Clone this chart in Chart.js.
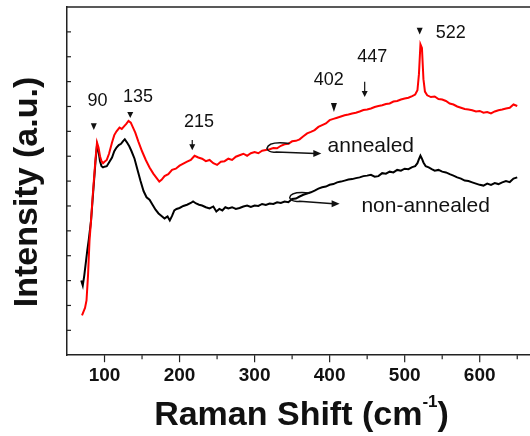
<!DOCTYPE html>
<html>
<head>
<meta charset="utf-8">
<script src="https://cdn.jsdelivr.net/npm/chart.js@4.4.1/dist/chart.umd.min.js"></script>
<style>
  body { margin: 0; background: #fff; }
  #wrap { width: 530px; height: 436px; }
</style>
</head>
<body>
<div id="wrap"><canvas id="graphic" width="530" height="436"></canvas></div>
<script>
// Raman spectra (intensity in axis-tick units)
const annealedX = [70,72,74,76,78,80,82,84,86,88,90,92,94,96,98,100,103,106,110,113,116,120,123,126,129,132,135,138,141,145,150,155,160,165,170,173,176,180,185,190,195,200,205,210,215,220,225,230,235,240,245,250,255,260,265,270,275,280,285,290,295,300,305,310,315,320,325,330,335,340,345,350,355,360,365,370,375,380,385,390,395,400,405,410,415,420,425,430,435,440,445,450,455,460,465,470,475,480,485,490,495,500,505,510,514,517,519,521,523,525,527,530,535,540,545,550,555,560,565,570,575,580,585,590,595,600,605,610,615,620,625,630,635,640,645,650];
const annealedY = [1.6,1.75,1.9,2.2,3.2,4.6,5.4,6.3,7.1,7.9,8.55,8.35,8.0,7.8,7.72,7.78,7.85,8.1,8.55,8.85,9.0,9.15,9.1,9.2,9.3,9.42,9.35,9.15,8.95,8.6,8.2,7.85,7.55,7.3,7.1,6.98,7.05,7.2,7.28,7.45,7.5,7.62,7.7,7.78,7.85,8.02,7.95,7.9,7.8,7.85,7.72,7.65,7.78,7.8,7.9,7.85,7.98,8.04,8.1,8.02,8.12,8.17,8.12,8.22,8.25,8.28,8.33,8.32,8.42,8.48,8.5,8.6,8.62,8.68,8.8,8.92,8.98,9.05,9.18,9.25,9.32,9.45,9.5,9.55,9.6,9.65,9.68,9.72,9.75,9.8,9.86,9.88,9.92,9.98,10.02,10.05,10.1,10.12,10.2,10.22,10.28,10.32,10.35,10.42,10.48,10.65,11.3,12.5,12.35,11.1,10.6,10.45,10.38,10.4,10.3,10.28,10.22,10.12,10.08,10.0,9.95,9.9,9.88,9.85,9.8,9.82,9.75,9.78,9.72,9.8,9.85,9.88,9.92,9.95,10.08,10.02];

const nonAnnealedX = [69,71,73,75,77,79,82,84,86,88,90,92,94,96,98,100,103,106,110,113,116,119,122,125,127,130,133,136,140,144,148,152,156,160,164,168,172,176,180,184,187,190,193,196,200,205,210,215,218,222,226,230,235,240,245,249,253,257,261,265,270,275,280,285,290,295,300,305,310,315,320,325,330,335,340,345,350,355,360,365,370,375,380,385,390,395,400,405,410,415,420,425,430,435,440,445,450,455,460,465,470,475,480,485,490,495,500,505,510,514,517,519,521,523,525,528,532,536,540,545,550,555,560,565,570,575,580,585,590,595,600,605,610,615,620,625,630,635,640,645,650];
const nonAnnealedY = [3.0,2.8,3.2,3.7,4.2,4.65,5.4,6.2,7.0,7.8,8.45,8.2,7.8,7.6,7.55,7.58,7.6,7.75,7.95,8.2,8.35,8.45,8.5,8.62,8.68,8.55,8.4,8.2,7.9,7.45,7.0,6.6,6.35,6.25,6.05,5.85,5.7,5.6,5.5,5.58,5.42,5.6,5.82,5.88,5.92,6.0,6.05,6.12,6.18,6.1,6.05,6.02,5.95,5.9,5.98,5.78,5.88,5.82,5.95,5.9,5.95,5.88,5.92,5.98,6.02,5.96,6.02,6.0,6.08,6.04,6.1,6.08,6.15,6.12,6.18,6.15,6.28,6.3,6.38,6.45,6.5,6.55,6.62,6.7,6.75,6.78,6.85,6.88,6.95,6.98,7.02,7.06,7.08,7.12,7.15,7.2,7.22,7.25,7.18,7.2,7.32,7.3,7.38,7.35,7.45,7.42,7.5,7.48,7.56,7.6,7.72,7.88,8.02,7.9,7.75,7.6,7.55,7.48,7.42,7.45,7.38,7.35,7.28,7.22,7.15,7.1,7.02,7.0,6.95,6.9,6.85,6.82,6.9,6.85,6.92,6.88,6.95,7.0,6.96,7.1,7.15];

// peak labels: text, label position, marker position (data units), marker kind
const peakText = ["90", "135", "215", "402", "447", "522"];
const peakLabelX = [90.7, 144.7, 226, 398.7, 456.7, 561.3];
const peakLabelY = [10.22, 10.39, 9.37, 11.07, 12.0, 12.97];
const peakMarkX = [85.7, 134.3, 216.9, 405.7, 446.7, 520];
const peakMarkTop = [9.33, 9.78, 8.65, 10.14, 10.99, 13.17];
const peakMarkTip = [9.05, 9.54, 8.24, 9.78, 10.38, 12.89];
const peakMarkKind = ["tri", "tri", "arrow", "tri", "arrow", "tri"];

const curveNames = ["annealed", "non-annealed"];
const curveNameX = [397.3, 442.3];
const curveNameY = [8.4, 5.98];

const xTicks = [100, 200, 300, 400, 500, 600];

let graphic = document.getElementById("graphic").getContext('2d');

function toPoints(xs, ys) {
    return xs.map(function (x, i) { return { x: x, y: ys[i] }; });
}

const decorations = {
    id: 'decorations',
    afterDraw: function (chart) {
        const ctx = chart.ctx;
        const xs = chart.scales.x;
        const ys = chart.scales.y;
        const area = chart.chartArea;
        const P = function (x, y) { return [xs.getPixelForValue(x), ys.getPixelForValue(y)]; };

        ctx.save();
        ctx.strokeStyle = '#222';
        ctx.lineWidth = 1.5;
        // top frame line
        ctx.beginPath();
        ctx.moveTo(area.left, area.top);
        ctx.lineTo(area.right, area.top);
        ctx.stroke();

        // x tick marks (outward), majors every 100, minors on the 50s
        ctx.lineWidth = 1.2;
        for (let v = 100; v <= 650; v += 50) {
            const px = xs.getPixelForValue(v);
            const len = (v % 100 === 0) ? 7 : 4;
            ctx.beginPath();
            ctx.moveTo(px, area.bottom);
            ctx.lineTo(px, area.bottom + len);
            ctx.stroke();
        }
        // y tick marks (inward)
        for (let v = 1; v <= 13; v++) {
            const py = ys.getPixelForValue(v);
            ctx.beginPath();
            ctx.moveTo(area.left, py);
            ctx.lineTo(area.left + 4, py);
            ctx.stroke();
        }

        // axis titles
        ctx.fillStyle = '#111';
        ctx.textBaseline = 'alphabetic';
        const main = 'Raman Shift (cm';
        ctx.font = 'bold 34px "Liberation Sans", Arial, sans-serif';
        const wMain = ctx.measureText(main).width;
        ctx.font = 'bold 17px "Liberation Sans", Arial, sans-serif';
        const wSup = ctx.measureText('-1').width;
        ctx.font = 'bold 34px "Liberation Sans", Arial, sans-serif';
        const wClose = ctx.measureText(')').width;
        let tx = (area.left + area.right) / 2 - (wMain + wSup + wClose) / 2 + 3;
        const ty = 425;
        ctx.textAlign = 'left';
        ctx.fillText(main, tx, ty);
        ctx.font = 'bold 17px "Liberation Sans", Arial, sans-serif';
        ctx.fillText('-1', tx + wMain, ty - 18);
        ctx.font = 'bold 34px "Liberation Sans", Arial, sans-serif';
        ctx.fillText(')', tx + wMain + wSup, ty);

        ctx.save();
        ctx.translate(28, 192);
        ctx.rotate(-Math.PI / 2);
        ctx.textAlign = 'center';
        ctx.textBaseline = 'middle';
        ctx.font = 'bold 34px "Liberation Sans", Arial, sans-serif';
        ctx.fillText('Intensity (a.u.)', 0, 0);
        ctx.restore();

        // peak labels and markers
        ctx.textAlign = 'center';
        ctx.textBaseline = 'middle';
        ctx.font = '18px "Liberation Sans", Arial, sans-serif';
        ctx.lineWidth = 1.2;
        ctx.strokeStyle = '#111';
        for (let i = 0; i < peakText.length; i++) {
            const lp = P(peakLabelX[i], peakLabelY[i]);
            ctx.fillText(peakText[i], lp[0], lp[1]);
            const top = P(peakMarkX[i], peakMarkTop[i]);
            const tip = P(peakMarkX[i], peakMarkTip[i]);
            ctx.beginPath();
            if (peakMarkKind[i] === 'tri') {
                ctx.moveTo(top[0] - 3, top[1]);
                ctx.lineTo(top[0] + 3, top[1]);
                ctx.lineTo(tip[0], tip[1]);
                ctx.closePath();
                ctx.fill();
            } else {
                ctx.moveTo(top[0], top[1]);
                ctx.lineTo(tip[0], tip[1] - 4);
                ctx.stroke();
                ctx.beginPath();
                ctx.moveTo(tip[0] - 3, tip[1] - 6);
                ctx.lineTo(tip[0] + 3, tip[1] - 6);
                ctx.lineTo(tip[0], tip[1]);
                ctx.closePath();
                ctx.fill();
            }
        }

        // curve names
        ctx.textAlign = 'left';
        ctx.font = '21px "Liberation Sans", Arial, sans-serif';
        for (let i = 0; i < curveNames.length; i++) {
            const p = P(curveNameX[i], curveNameY[i]);
            ctx.fillText(curveNames[i], p[0], p[1]);
        }

        // looped pointer arrows
        const loops = [
            [[346.7, 8.51], [324, 8.54], [316.4, 8.31], [328.9, 8.17], [388.9, 8.11]],
            [[373.3, 6.52], [353.3, 6.52], [346.7, 6.33], [360, 6.19], [413.3, 6.09]]
        ];
        ctx.lineWidth = 1.5;
        loops.forEach(function (pts) {
            const q = pts.map(function (p) { return P(p[0], p[1]); });
            ctx.beginPath();
            ctx.moveTo(q[0][0], q[0][1]);
            ctx.quadraticCurveTo(q[1][0] - 4, q[1][1] - 2, q[2][0], q[2][1]);
            ctx.quadraticCurveTo(q[2][0] + 2, q[3][1] + 1, q[3][0], q[3][1]);
            ctx.lineTo(q[4][0] - 6, q[4][1]);
            ctx.stroke();
            ctx.beginPath();
            ctx.moveTo(q[4][0], q[4][1]);
            ctx.lineTo(q[4][0] - 8, q[4][1] - 3.5);
            ctx.lineTo(q[4][0] - 8, q[4][1] + 3.5);
            ctx.closePath();
            ctx.fill();
        });
        ctx.restore();
    }
};

var chart = new Chart(graphic, {
    type: "line",
    data: {
        datasets: [{
            label: 'annealed',
            data: toPoints(annealedX, annealedY),
            borderColor: '#ff0000',
            borderWidth: 2,
            pointRadius: 0,
            tension: 0
        }, {
            label: 'non-annealed',
            data: toPoints(nonAnnealedX, nonAnnealedY),
            borderColor: '#000000',
            borderWidth: 2,
            pointRadius: 0,
            tension: 0
        }]
    },
    options: {
        responsive: false,
        animation: false,
        layout: { padding: { left: 59, top: 7, right: 0, bottom: 48 } },
        plugins: {
            legend: { display: false },
            tooltip: { enabled: false }
        },
        scales: {
            x: {
                type: 'linear',
                min: 50,
                max: 667,
                grid: { display: false },
                border: { color: '#222', width: 1.5 },
                afterBuildTicks: function (axis) {
                    axis.ticks = xTicks.map(function (v) { return { value: v }; });
                },
                ticks: {
                    autoSkip: false,
                    maxRotation: 0,
                    padding: 1,
                    color: '#111',
                    font: { family: '"Liberation Sans", Arial, sans-serif', size: 19, weight: 'bold' }
                }
            },
            y: {
                min: 0,
                max: 14,
                grid: { display: false },
                border: { color: '#222', width: 1.5 },
                ticks: { display: false }
            }
        }
    },
    plugins: [decorations]
});
</script>
</body>
</html>
